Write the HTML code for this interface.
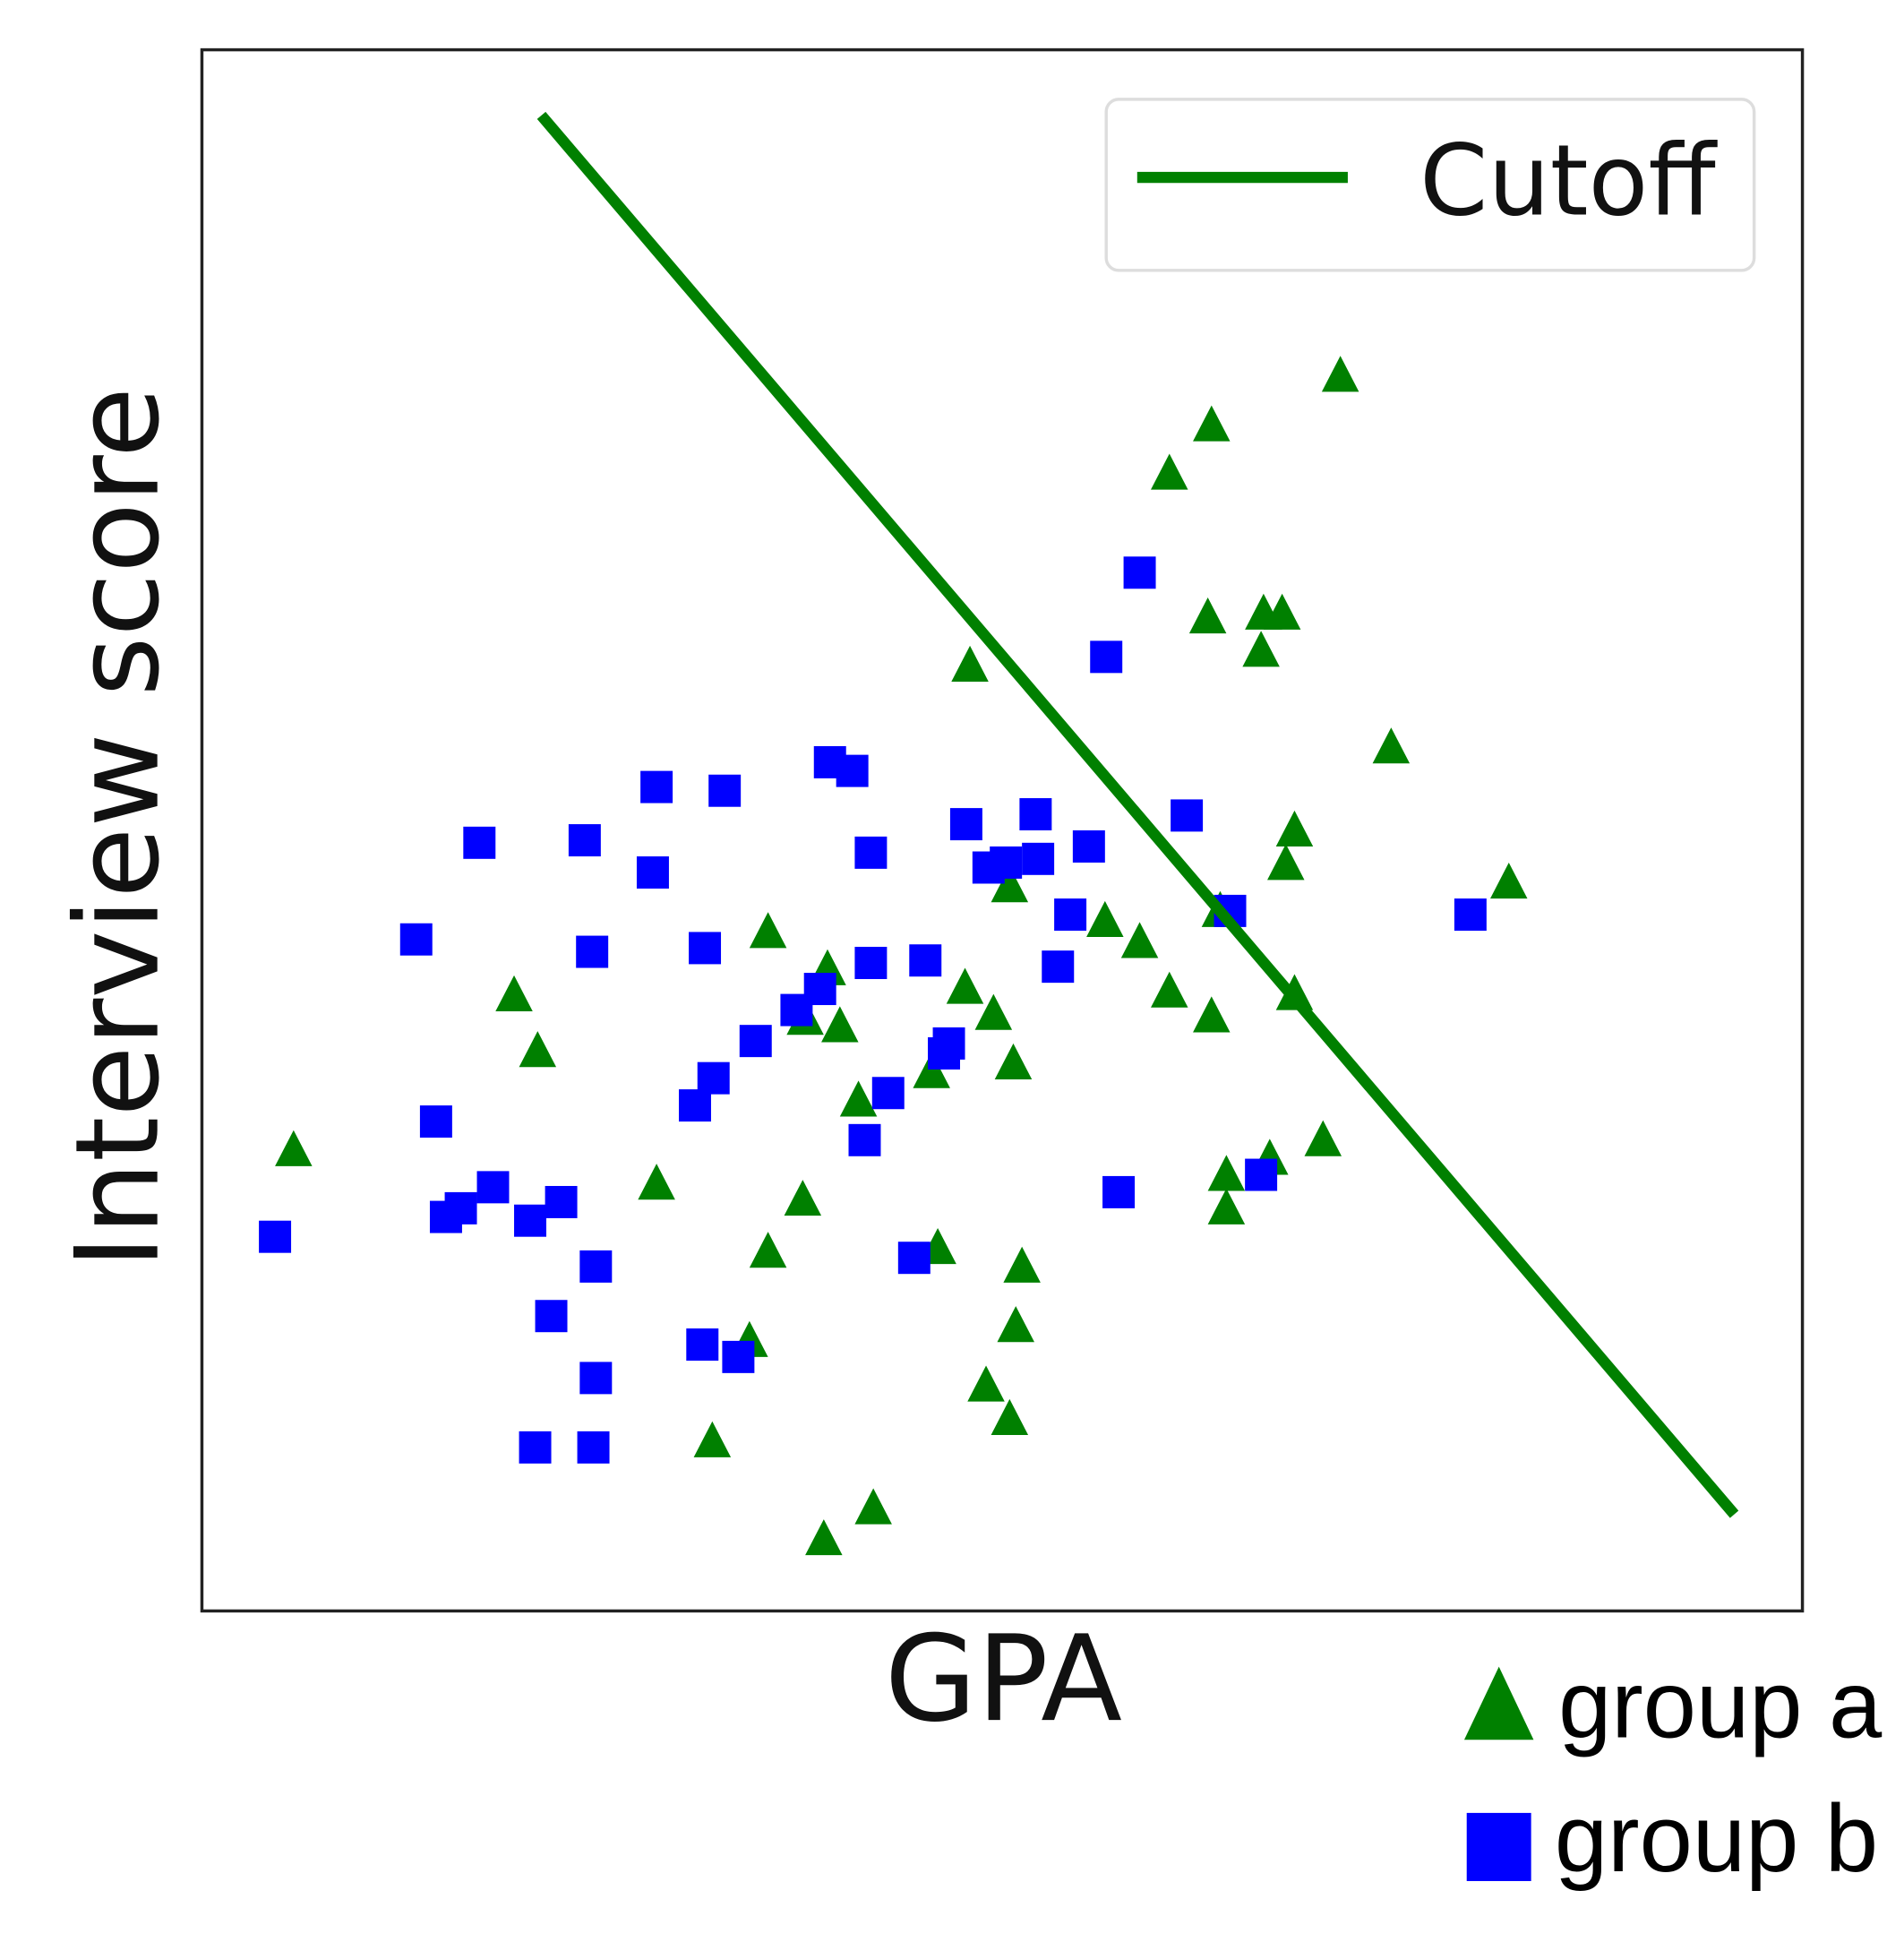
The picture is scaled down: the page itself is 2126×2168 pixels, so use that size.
<!DOCTYPE html>
<html><head><meta charset="utf-8"><style>html,body{margin:0;padding:0;background:#fff;}svg{display:block;}</style></head>
<body>
<svg id="chart" width="2126" height="2168" viewBox="0 0 1537 1567" xmlns="http://www.w3.org/2000/svg">
<rect x="0" y="0" width="1537" height="1567" fill="#fff"/>
<rect x="163" y="40" width="1292" height="1260" fill="none" stroke="#222" stroke-width="2.5"/>
<g id="marks"></g>
<g>
<rect x="893" y="80" width="523" height="138" rx="10" fill="#fff" stroke="#ddd" stroke-width="2.5"/>
<line x1="918" y1="143" x2="1088" y2="143" stroke="#008000" stroke-width="9"/>
<text x="1146" y="173" font-family="DejaVu Sans, sans-serif" font-size="79" fill="#111">Cutoff</text>
</g>
<text x="810" y="1388" text-anchor="middle" font-family="DejaVu Sans, sans-serif" font-size="96" fill="#111">GPA</text>
<text transform="translate(127,668) rotate(-90)" text-anchor="middle" font-family="DejaVu Sans, sans-serif" font-size="93" fill="#111">Interview score</text>
<g>
<polygon points="1182,1404 1210,1345 1238,1404" fill="#008000"/>
<text x="1258" y="1402" font-family="Liberation Sans, sans-serif" font-size="77" fill="#000">group a</text>
<rect x="1184" y="1463" width="52" height="55" fill="#0000ff"/>
<text x="1255" y="1510" font-family="Liberation Sans, sans-serif" font-size="77" fill="#000">group b</text>
</g>
</svg>
<script>
// Data in arbitrary units (domain chosen to match the frame)
const triX=[237,415,434,530,575,605,620,620,648,665,705,668,650,678,693,752,757,779,783,796,802,815,815,818,820,825,892,920,944,944,975,978,978,985,990,990,1018,1020,1035,1025,1038,1045,1045,1068,1082,1123,1218];
const triY=[928,803,848,955,1163,1082,1010,752,968,1242,1217,782,822,828,888,865,1007,797,537,1118,818,1145,715,858,1070,1022,743,760,382,800,498,343,820,735,948,975,525,495,495,935,697,670,802,920,303,603,712];
const sqX=[222,336,352,360,372,387,398,428,445,453,472,478,481,481,432,479,527,530,561,567,569,576,585,596,610,643,662,670,688,698,703,703,717,738,747,762,766,780,798,812,836,838,854,864,879,893,903,920,958,993,1018,1187];
const sqY=[998,758,905,982,975,680,958,985,1062,970,678,768,1022,1112,1168,1168,704,635,892,1085,765,870,638,1095,840,815,798,615,622,920,688,777,882,1015,775,850,842,665,700,696,657,693,780,738,683,530,962,462,658,735,948,738];
const cutX=[437,1400];
const cutY=[93,1222];
// axis functions (data domain -> plot pixels)
const X0=163,X1=1455,Y0=40,Y1=1300;
const dx=[163,1455], dy=[40,1300];
function xs(v){return X0+(v-dx[0])/(dx[1]-dx[0])*(X1-X0);}
function ys(v){return Y0+(v-dy[0])/(dy[1]-dy[0])*(Y1-Y0);}
const NS="http://www.w3.org/2000/svg";
const g=document.getElementById('marks');
for(let i=0;i<triX.length;i++){
  const p=document.createElementNS(NS,'polygon');
  const cx=xs(triX[i]),cy=ys(triY[i]);
  p.setAttribute('points',`${cx-15},${cy+13} ${cx},${cy-16} ${cx+15},${cy+13}`);
  p.setAttribute('fill','#008000');
  
  
  g.appendChild(p);
}
for(let i=0;i<sqX.length;i++){
  const r=document.createElementNS(NS,'rect');
  r.setAttribute('x',xs(sqX[i])-13);
  r.setAttribute('y',ys(sqY[i])-13);
  r.setAttribute('width',26);
  r.setAttribute('height',26);
  r.setAttribute('fill','#0000ff');
  
  
  g.appendChild(r);
}
const l=document.createElementNS(NS,'line');
l.setAttribute('x1',xs(cutX[0]));l.setAttribute('y1',ys(cutY[0]));
l.setAttribute('x2',xs(cutX[1]));l.setAttribute('y2',ys(cutY[1]));
l.setAttribute('stroke','#008000');l.setAttribute('stroke-width','9');


g.appendChild(l);
</script>
</body></html>
